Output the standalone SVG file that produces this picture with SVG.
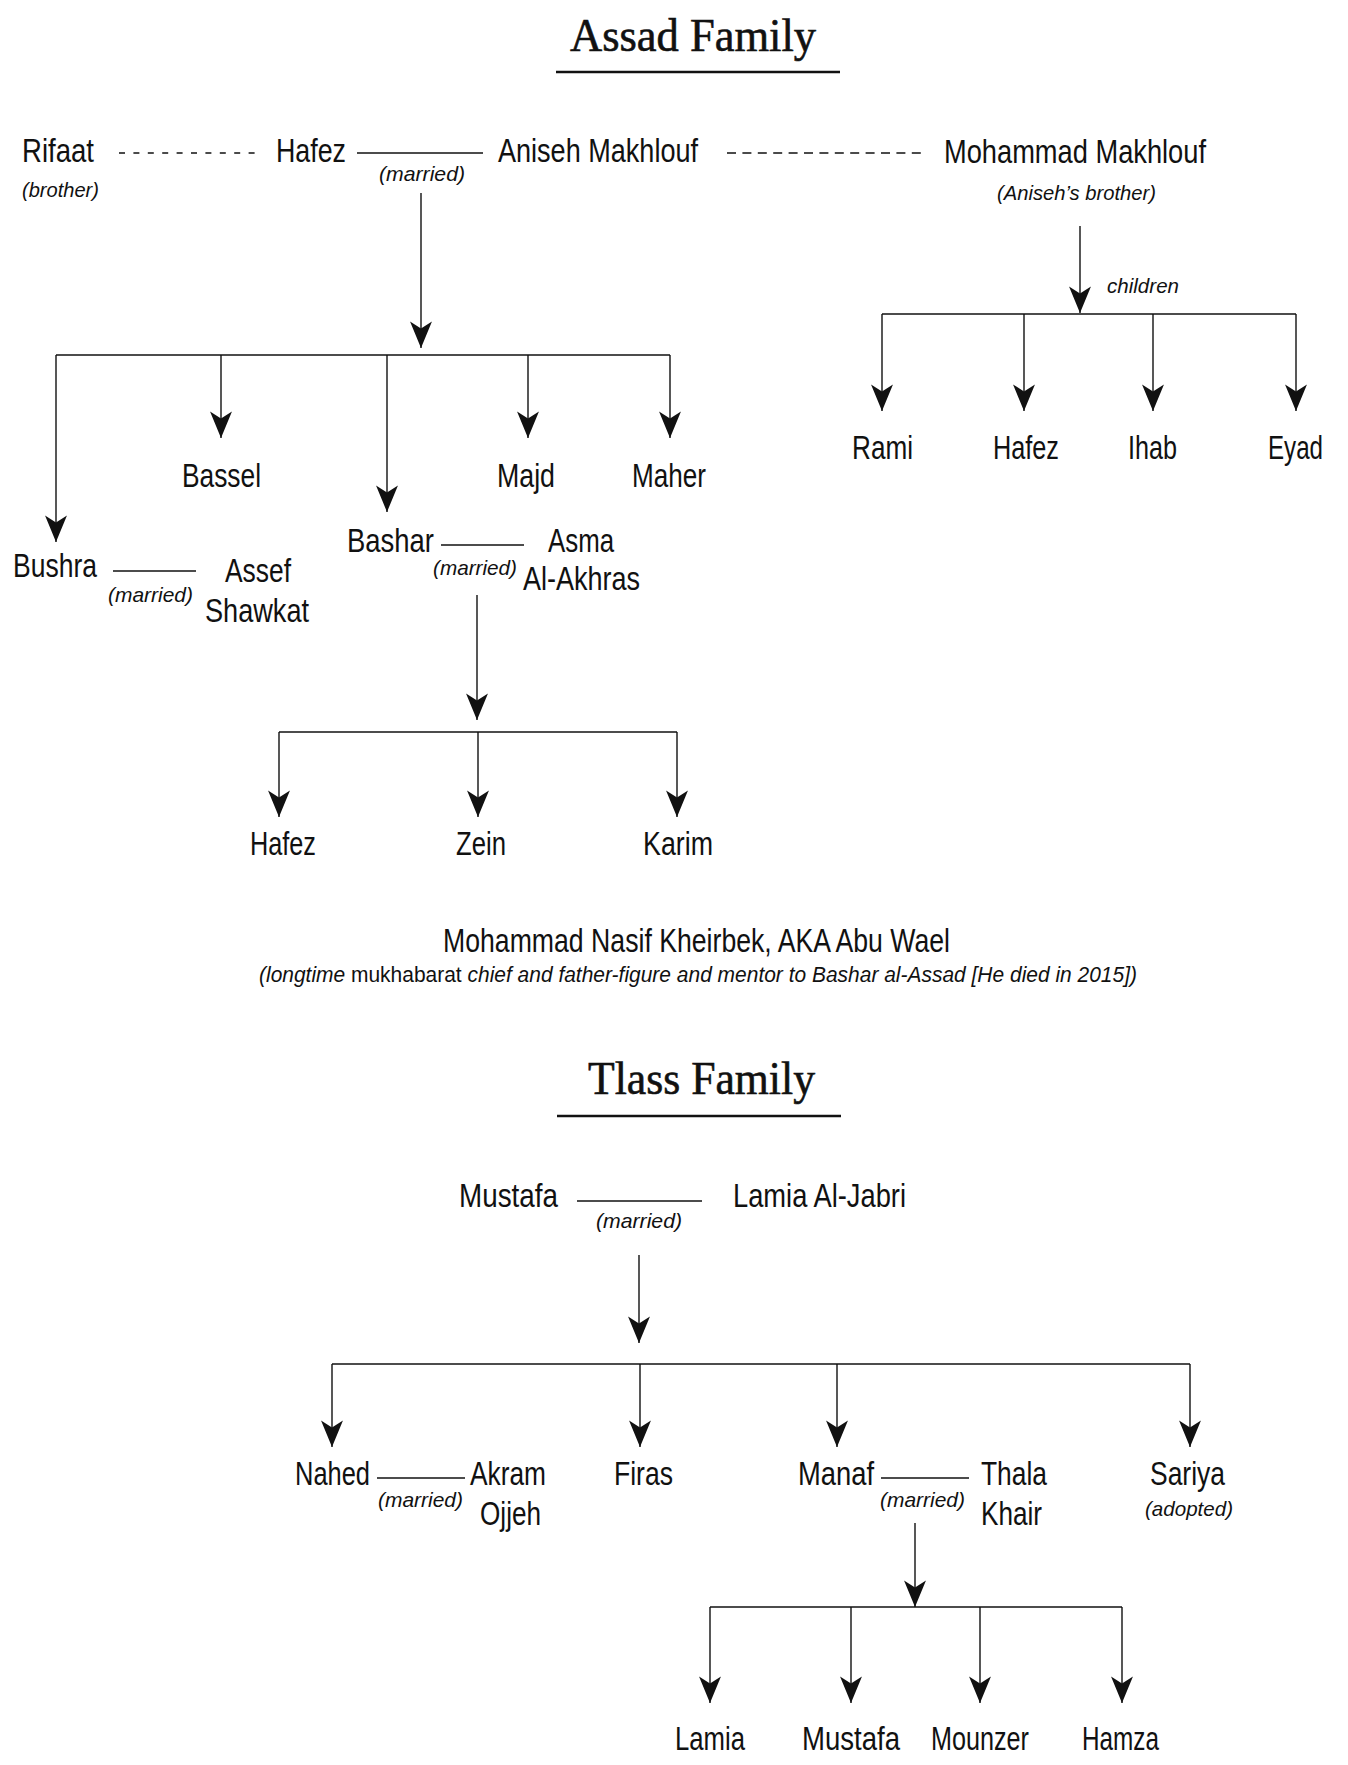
<svg xmlns="http://www.w3.org/2000/svg" width="1348" height="1765" viewBox="0 0 1348 1765">
<style>
.n{font-family:"Liberation Sans Narrow","Liberation Sans",Arial,sans-serif;font-size:34px;fill:#111}
.i{font-family:"Liberation Sans Narrow","Liberation Sans",Arial,sans-serif;font-size:21px;font-style:italic;fill:#111}
.s{font-family:"Liberation Sans Narrow","Liberation Sans",Arial,sans-serif;font-size:22px;fill:#111}
.t{font-family:"Liberation Serif","Times New Roman",serif;font-size:46px;fill:#111;stroke:#111;stroke-width:0.6}
.c line{stroke:#111;stroke-width:1.4;fill:none}
.c .d{stroke-dasharray:6 8.4}
.c .d2{stroke-dasharray:9 6.4}
.c .a{marker-end:url(#arr)}
.u{stroke:#111;stroke-width:2.5}
</style>
<defs>
<marker id="arr" markerUnits="userSpaceOnUse" markerWidth="30" markerHeight="30" viewBox="-1 -11 26 22" refX="23" refY="0" orient="auto">
<path d="M0,-9.5 L23,0 L0,9.5 L6,0 Z" fill="#111"/>
</marker>
</defs>
<rect width="1348" height="1765" fill="#fff"/>

<g id="title-assad">
<text class="t" x="570" y="51" textLength="246" lengthAdjust="spacingAndGlyphs">Assad Family</text>
<line class="u" x1="556" y1="72" x2="840" y2="72"/>
</g>

<g class="c" id="connectors">
<line class="d" x1="119" y1="153" x2="256" y2="153"/>
<line x1="357" y1="153" x2="483" y2="153"/>
<line class="d2" x1="727" y1="153" x2="922" y2="153"/>
<line class="a" x1="421" y1="193" x2="421" y2="348"/>
<line x1="56" y1="355" x2="670" y2="355"/>
<line class="a" x1="56" y1="355" x2="56" y2="542"/>
<line class="a" x1="221" y1="355" x2="221" y2="438"/>
<line class="a" x1="387" y1="355" x2="387" y2="512"/>
<line class="a" x1="528" y1="355" x2="528" y2="438"/>
<line class="a" x1="670" y1="355" x2="670" y2="438"/>
<line class="a" x1="1080" y1="226" x2="1080" y2="313"/>
<line x1="882" y1="314" x2="1296" y2="314"/>
<line class="a" x1="882" y1="314" x2="882" y2="411"/>
<line class="a" x1="1024" y1="314" x2="1024" y2="411"/>
<line class="a" x1="1153" y1="314" x2="1153" y2="411"/>
<line class="a" x1="1296" y1="314" x2="1296" y2="411"/>
<line x1="113" y1="571" x2="196" y2="571"/>
<line x1="441" y1="545" x2="524" y2="545"/>
<line class="a" x1="477" y1="595" x2="477" y2="720"/>
<line x1="279" y1="732" x2="677" y2="732"/>
<line class="a" x1="279" y1="732" x2="279" y2="817"/>
<line class="a" x1="478" y1="732" x2="478" y2="817"/>
<line class="a" x1="677" y1="732" x2="677" y2="817"/>
<line x1="577" y1="1201" x2="702" y2="1201"/>
<line class="a" x1="639" y1="1255" x2="639" y2="1343"/>
<line x1="332" y1="1364" x2="1190" y2="1364"/>
<line class="a" x1="332" y1="1364" x2="332" y2="1447"/>
<line class="a" x1="640" y1="1364" x2="640" y2="1447"/>
<line class="a" x1="837" y1="1364" x2="837" y2="1447"/>
<line class="a" x1="1190" y1="1364" x2="1190" y2="1447"/>
<line x1="377" y1="1478" x2="465" y2="1478"/>
<line x1="881" y1="1478" x2="969" y2="1478"/>
<line class="a" x1="915" y1="1523" x2="915" y2="1607"/>
<line x1="710" y1="1607" x2="1122" y2="1607"/>
<line class="a" x1="710" y1="1607" x2="710" y2="1703"/>
<line class="a" x1="851" y1="1607" x2="851" y2="1703"/>
<line class="a" x1="980" y1="1607" x2="980" y2="1703"/>
<line class="a" x1="1122" y1="1607" x2="1122" y2="1703"/>
</g>

<g id="rifaat"><text class="n" x="22" y="162" textLength="72" lengthAdjust="spacingAndGlyphs">Rifaat</text>
<text class="i" x="22" y="197" textLength="77" lengthAdjust="spacingAndGlyphs">(brother)</text></g>
<g id="hafez"><text class="n" x="276" y="162" textLength="70" lengthAdjust="spacingAndGlyphs">Hafez</text></g>
<g id="m1"><text class="i" x="379" y="181" textLength="86" lengthAdjust="spacingAndGlyphs">(married)</text></g>
<g id="aniseh"><text class="n" x="498" y="162" textLength="200" lengthAdjust="spacingAndGlyphs">Aniseh Makhlouf</text></g>
<g id="mohammad"><text class="n" x="944" y="163" textLength="262" lengthAdjust="spacingAndGlyphs">Mohammad Makhlouf</text>
<text class="i" x="997" y="200" textLength="159" lengthAdjust="spacingAndGlyphs">(Aniseh’s brother)</text></g>
<g id="children"><text class="i" x="1107" y="293" textLength="72" lengthAdjust="spacingAndGlyphs">children</text></g>
<g id="rami"><text class="n" x="852" y="459" textLength="61" lengthAdjust="spacingAndGlyphs">Rami</text></g>
<g id="hafez2"><text class="n" x="993" y="459" textLength="66" lengthAdjust="spacingAndGlyphs">Hafez</text></g>
<g id="ihab"><text class="n" x="1128" y="459" textLength="49" lengthAdjust="spacingAndGlyphs">Ihab</text></g>
<g id="eyad"><text class="n" x="1268" y="459" textLength="55" lengthAdjust="spacingAndGlyphs">Eyad</text></g>
<g id="bassel"><text class="n" x="182" y="487" textLength="79" lengthAdjust="spacingAndGlyphs">Bassel</text></g>
<g id="majd"><text class="n" x="497" y="487" textLength="58" lengthAdjust="spacingAndGlyphs">Majd</text></g>
<g id="maher"><text class="n" x="632" y="487" textLength="74" lengthAdjust="spacingAndGlyphs">Maher</text></g>
<g id="bushra"><text class="n" x="13" y="577" textLength="84" lengthAdjust="spacingAndGlyphs">Bushra</text></g>
<g id="m2"><text class="i" x="108" y="602" textLength="85" lengthAdjust="spacingAndGlyphs">(married)</text></g>
<g id="assef"><text class="n" x="225" y="582" textLength="66" lengthAdjust="spacingAndGlyphs">Assef</text>
<text class="n" x="205" y="622" textLength="104" lengthAdjust="spacingAndGlyphs">Shawkat</text></g>
<g id="bashar"><text class="n" x="347" y="552" textLength="87" lengthAdjust="spacingAndGlyphs">Bashar</text></g>
<g id="m3"><text class="i" x="433" y="575" textLength="84" lengthAdjust="spacingAndGlyphs">(married)</text></g>
<g id="asma"><text class="n" x="548" y="552" textLength="66" lengthAdjust="spacingAndGlyphs">Asma</text>
<text class="n" x="523" y="590" textLength="117" lengthAdjust="spacingAndGlyphs">Al-Akhras</text></g>
<g id="hafez3"><text class="n" x="250" y="855" textLength="66" lengthAdjust="spacingAndGlyphs">Hafez</text></g>
<g id="zein"><text class="n" x="456" y="855" textLength="50" lengthAdjust="spacingAndGlyphs">Zein</text></g>
<g id="karim"><text class="n" x="643" y="855" textLength="70" lengthAdjust="spacingAndGlyphs">Karim</text></g>
<g id="kheirbek"><text class="n" x="443" y="952" textLength="507" lengthAdjust="spacingAndGlyphs">Mohammad Nasif Kheirbek, AKA Abu Wael</text>
<text class="s" x="259" y="982" textLength="878" lengthAdjust="spacingAndGlyphs"><tspan font-style="italic">(longtime </tspan>mukhabarat<tspan font-style="italic"> chief and father-figure and mentor to Bashar al-Assad [He died in 2015])</tspan></text></g>

<g id="title-tlass">
<text class="t" x="588" y="1094" textLength="227" lengthAdjust="spacingAndGlyphs">Tlass Family</text>
<line class="u" x1="557" y1="1116" x2="841" y2="1116"/>
</g>
<g id="mustafa"><text class="n" x="459" y="1207" textLength="99" lengthAdjust="spacingAndGlyphs">Mustafa</text></g>
<g id="m4"><text class="i" x="596" y="1228" textLength="86" lengthAdjust="spacingAndGlyphs">(married)</text></g>
<g id="lamia"><text class="n" x="733" y="1207" textLength="173" lengthAdjust="spacingAndGlyphs">Lamia Al-Jabri</text></g>
<g id="nahed"><text class="n" x="295" y="1485" textLength="75" lengthAdjust="spacingAndGlyphs">Nahed</text></g>
<g id="m5"><text class="i" x="378" y="1507" textLength="85" lengthAdjust="spacingAndGlyphs">(married)</text></g>
<g id="akram"><text class="n" x="470" y="1485" textLength="76" lengthAdjust="spacingAndGlyphs">Akram</text>
<text class="n" x="480" y="1525" textLength="61" lengthAdjust="spacingAndGlyphs">Ojjeh</text></g>
<g id="firas"><text class="n" x="614" y="1485" textLength="59" lengthAdjust="spacingAndGlyphs">Firas</text></g>
<g id="manaf"><text class="n" x="798" y="1485" textLength="76" lengthAdjust="spacingAndGlyphs">Manaf</text></g>
<g id="m6"><text class="i" x="880" y="1507" textLength="85" lengthAdjust="spacingAndGlyphs">(married)</text></g>
<g id="thala"><text class="n" x="981" y="1485" textLength="66" lengthAdjust="spacingAndGlyphs">Thala</text>
<text class="n" x="981" y="1525" textLength="61" lengthAdjust="spacingAndGlyphs">Khair</text></g>
<g id="sariya"><text class="n" x="1150" y="1485" textLength="75" lengthAdjust="spacingAndGlyphs">Sariya</text>
<text class="i" x="1145" y="1516" textLength="88" lengthAdjust="spacingAndGlyphs">(adopted)</text></g>
<g id="lamia2"><text class="n" x="675" y="1750" textLength="70" lengthAdjust="spacingAndGlyphs">Lamia</text></g>
<g id="mustafa2"><text class="n" x="802" y="1750" textLength="98" lengthAdjust="spacingAndGlyphs">Mustafa</text></g>
<g id="mounzer"><text class="n" x="931" y="1750" textLength="98" lengthAdjust="spacingAndGlyphs">Mounzer</text></g>
<g id="hamza"><text class="n" x="1082" y="1750" textLength="77" lengthAdjust="spacingAndGlyphs">Hamza</text></g>
</svg>
